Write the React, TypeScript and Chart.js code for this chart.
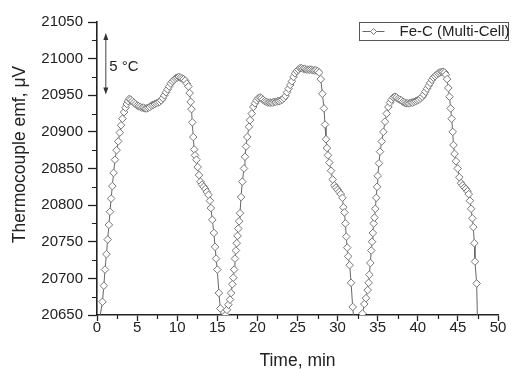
import React, { useEffect, useRef } from 'react';
import { Chart, registerables } from 'chart.js';

Chart.register(...registerables);

// ---- data (Time, min / Thermocouple emf, µV) ----
const cycle1Time = [0.25, 0.68, 0.85, 1.0, 1.18, 1.33, 1.48, 1.62, 1.76, 1.91, 2.07, 2.24, 2.44, 2.64, 2.84, 3.0, 3.17, 3.38, 3.56, 3.72, 3.88, 4.03, 4.2, 4.4, 4.6, 4.8, 5.0, 5.2, 5.4, 5.6, 5.8, 6.0, 6.2, 6.4, 6.6, 6.8, 7.0, 7.2, 7.4, 7.6, 7.8, 8.0, 8.2, 8.4, 8.6, 8.8, 9.0, 9.2, 9.4, 9.6, 9.8, 10.0, 10.2, 10.4, 10.6, 10.8, 11.0, 11.2, 11.4, 11.55, 11.68, 11.78, 11.88, 12.0, 12.12, 12.22, 12.4, 12.55, 12.72, 12.9, 13.1, 13.3, 13.5, 13.7, 13.9, 14.08, 14.2, 14.38, 14.58, 14.72, 14.85, 15.0, 15.2, 15.38, 15.6, 15.85];
const cycle1Emf = [20640, 20668, 20690, 20712, 20733, 20753, 20773, 20791, 20809, 20826, 20844, 20862, 20875, 20887, 20899, 20909, 20918, 20927, 20933, 20938, 20942, 20945, 20944, 20942, 20940, 20938, 20936, 20935, 20934, 20933, 20933, 20932, 20932, 20933, 20934, 20936, 20937, 20938, 20939, 20940, 20941, 20943, 20946, 20950, 20954, 20958, 20962, 20966, 20969, 20971, 20973, 20974, 20975, 20974, 20973, 20972, 20970, 20966, 20962, 20953, 20941, 20931, 20913, 20893, 20876, 20868, 20862, 20852, 20841, 20832, 20828, 20825, 20822, 20818, 20814, 20806, 20796, 20780, 20762, 20743, 20727, 20712, 20680, 20659, 20638, 20642];

const cycle2Time = [16.02, 16.2, 16.38, 16.58, 16.72, 16.87, 17.0, 17.1, 17.2, 17.32, 17.42, 17.52, 17.62, 17.72, 17.83, 17.96, 18.12, 18.33, 18.45, 18.58, 18.74, 18.95, 19.08, 19.29, 19.49, 19.7, 19.91, 20.1, 20.32, 20.5, 20.7, 20.9, 21.1, 21.3, 21.5, 21.7, 21.9, 22.1, 22.3, 22.5, 22.7, 22.9, 23.1, 23.3, 23.5, 23.7, 23.9, 24.1, 24.3, 24.5, 24.7, 24.9, 25.1, 25.3, 25.5, 25.7, 25.9, 26.1, 26.3, 26.5, 26.7, 26.9, 27.1, 27.3, 27.5, 27.7, 27.9, 28.1, 28.3, 28.43, 28.55, 28.68, 28.8, 28.97, 29.18, 29.38, 29.6, 29.8, 30.0, 30.2, 30.4, 30.6, 30.72, 30.85, 30.97, 31.08, 31.2, 31.32, 31.5, 31.68, 31.88, 32.1, 32.35, 32.6, 32.85];
const cycle2Emf = [20650, 20657, 20664, 20671, 20680, 20692, 20701, 20712, 20727, 20738, 20748, 20758, 20768, 20778, 20789, 20811, 20832, 20850, 20866, 20880, 20893, 20907, 20916, 20925, 20934, 20939, 20943, 20946, 20947, 20946, 20944, 20942, 20941, 20940, 20940, 20940, 20940, 20941, 20941, 20942, 20942, 20943, 20944, 20946, 20949, 20954, 20959, 20964, 20969, 20975, 20980, 20983, 20985, 20987, 20987, 20986, 20986, 20985, 20985, 20985, 20985, 20984, 20984, 20984, 20983, 20981, 20972, 20952, 20932, 20910, 20890, 20878, 20868, 20858, 20847, 20835, 20827, 20824, 20821, 20818, 20815, 20810, 20797, 20790, 20775, 20757, 20742, 20730, 20718, 20694, 20661, 20635, 20620, 20615, 20625];

const cycle3Time = [33.1, 33.33, 33.54, 33.75, 33.87, 33.96, 34.08, 34.2, 34.3, 34.4, 34.5, 34.6, 34.7, 34.82, 34.92, 35.0, 35.16, 35.29, 35.5, 35.7, 35.91, 36.12, 36.33, 36.54, 36.74, 36.95, 37.16, 37.35, 37.55, 37.75, 37.95, 38.15, 38.35, 38.55, 38.75, 38.95, 39.15, 39.35, 39.55, 39.75, 39.95, 40.15, 40.35, 40.55, 40.75, 40.95, 41.15, 41.35, 41.55, 41.75, 41.95, 42.15, 42.35, 42.55, 42.75, 42.95, 43.15, 43.35, 43.5, 43.65, 43.8, 43.95, 44.1, 44.22, 44.35, 44.45, 44.58, 44.76, 44.97, 45.18, 45.4, 45.6, 45.8, 46.0, 46.2, 46.35, 46.5, 46.65, 46.8, 46.92, 47.05, 47.13, 47.34, 47.62];
const cycle3Emf = [20652, 20665, 20673, 20684, 20694, 20705, 20721, 20738, 20750, 20762, 20775, 20783, 20795, 20810, 20825, 20840, 20857, 20873, 20887, 20900, 20914, 20925, 20934, 20940, 20944, 20947, 20948, 20947, 20945, 20944, 20943, 20941, 20940, 20939, 20939, 20939, 20940, 20940, 20941, 20942, 20943, 20944, 20946, 20948, 20951, 20955, 20959, 20963, 20967, 20971, 20974, 20976, 20978, 20980, 20981, 20982, 20982, 20981, 20978, 20972, 20960, 20948, 20932, 20918, 20900, 20882, 20870, 20860, 20850, 20838, 20830, 20827, 20824, 20822, 20819, 20815, 20806, 20795, 20782, 20770, 20748, 20723, 20693, 20550];

const seriesLabel = 'Fe-C (Multi-Cell)';
const xTitle = 'Time, min';
const yTitle = 'Thermocouple emf, \u03bcV';
const annotationText = '5 \u00b0C';
const annotationTime = 1.1;
const annotationEmf = [20951, 21035];

const xRange = [0, 50];
const yRange = [20650, 21050];
const xMinorTicks = [2.5, 7.5, 12.5, 17.5, 22.5, 27.5, 32.5, 37.5, 42.5, 47.5];
const yMinorTicks = [20675, 20725, 20775, 20825, 20875, 20925, 20975, 21025];

// ---- styles ----
const FONT = "'Liberation Sans', Arial, Helvetica, sans-serif";
const AXIS = '#222';
const TEXT = '#222';
const LINE = '#666';
const MARK = '#777';

const decorPlugin = {
  id: 'decor',
  afterDraw(chart: any) {
    const { ctx, chartArea } = chart;
    const xs = chart.scales.x;
    const ys = chart.scales.y;
    ctx.save();

    // minor ticks
    ctx.strokeStyle = AXIS;
    ctx.lineWidth = 1.2;
    ctx.beginPath();
    for (const v of xMinorTicks) {
      const px = Math.round(xs.getPixelForValue(v)) + 0.5;
      ctx.moveTo(px, chartArea.bottom);
      ctx.lineTo(px, chartArea.bottom + 4);
    }
    for (const v of yMinorTicks) {
      const py = Math.round(ys.getPixelForValue(v)) + 0.5;
      ctx.moveTo(chartArea.left - 5, py);
      ctx.lineTo(chartArea.left, py);
    }
    ctx.stroke();

    // double arrow annotation
    const ax = xs.getPixelForValue(annotationTime);
    const ay1 = ys.getPixelForValue(annotationEmf[1]);
    const ay2 = ys.getPixelForValue(annotationEmf[0]);
    ctx.strokeStyle = '#444';
    ctx.fillStyle = '#333';
    ctx.lineWidth = 1;
    ctx.beginPath();
    ctx.moveTo(ax, ay1 + 4);
    ctx.lineTo(ax, ay2 - 4);
    ctx.stroke();
    ctx.beginPath();
    ctx.moveTo(ax, ay1);
    ctx.lineTo(ax - 2.5, ay1 + 7);
    ctx.lineTo(ax + 2.5, ay1 + 7);
    ctx.closePath();
    ctx.fill();
    ctx.beginPath();
    ctx.moveTo(ax, ay2);
    ctx.lineTo(ax - 2.5, ay2 - 7);
    ctx.lineTo(ax + 2.5, ay2 - 7);
    ctx.closePath();
    ctx.fill();

    ctx.fillStyle = TEXT;
    ctx.font = `15px ${FONT}`;
    ctx.textAlign = 'left';
    ctx.textBaseline = 'middle';
    ctx.fillText(annotationText, ax + 3.5, (ay1 + ay2) / 2 + 3);

    // axis titles
    ctx.font = `17.5px ${FONT}`;
    ctx.textAlign = 'center';
    ctx.textBaseline = 'alphabetic';
    ctx.fillText(xTitle, (chartArea.left + chartArea.right) / 2, 366);
    ctx.save();
    ctx.translate(25, (chartArea.top + chartArea.bottom) / 2 - 14);
    ctx.rotate(-Math.PI / 2);
    ctx.fillText(yTitle, 0, 0);
    ctx.restore();

    // legend box
    const lx = 359.5, ly = 22.5, lw = 149, lh = 18;
    ctx.strokeStyle = '#555';
    ctx.lineWidth = 1;
    ctx.strokeRect(lx, ly, lw, lh);
    const cy = ly + lh / 2;
    ctx.strokeStyle = LINE;
    ctx.beginPath();
    ctx.moveTo(lx + 3, cy);
    ctx.lineTo(lx + 25, cy);
    ctx.stroke();
    ctx.fillStyle = '#fff';
    ctx.strokeStyle = MARK;
    const dx = lx + 14, r = 3;
    ctx.beginPath();
    ctx.moveTo(dx - r, cy);
    ctx.lineTo(dx, cy - r);
    ctx.lineTo(dx + r, cy);
    ctx.lineTo(dx, cy + r);
    ctx.closePath();
    ctx.fill();
    ctx.stroke();
    ctx.fillStyle = TEXT;
    ctx.font = `15px ${FONT}`;
    ctx.textAlign = 'left';
    ctx.textBaseline = 'middle';
    ctx.fillText(seriesLabel, lx + 40, cy + 0.5);

    ctx.restore();
  },
};

export default function App() {
  const canvasRef = useRef<HTMLCanvasElement | null>(null);

  useEffect(() => {
    const canvas = canvasRef.current;
    if (!canvas) return;
    const times = [...cycle1Time, ...cycle2Time, ...cycle3Time];
    const emf = [...cycle1Emf, ...cycle2Emf, ...cycle3Emf];
    const points = times.map((t, i) => ({ x: t, y: emf[i] }));

    const chart = new Chart(canvas, {
      type: 'line',
      data: {
        datasets: [
          {
            label: seriesLabel,
            data: points,
            borderColor: LINE,
            borderWidth: 1,
            pointStyle: 'rectRot',
            pointRadius: 3.8,
            pointBackgroundColor: '#fff',
            pointBorderColor: MARK,
            pointBorderWidth: 1,
            tension: 0,
            fill: false,
          },
        ],
      },
      options: {
        animation: false,
        responsive: false,
        maintainAspectRatio: false,
        devicePixelRatio: 1,
        layout: { padding: { top: 22, right: 14, left: 0, bottom: 0 } },
        plugins: {
          legend: { display: false },
          tooltip: { enabled: false },
          title: { display: false },
        },
        scales: {
          x: {
            type: 'linear',
            min: xRange[0],
            max: xRange[1],
            afterFit: (s: any) => {
              s.height = 54;
            },
            border: { display: true, color: AXIS, width: 1.6 },
            grid: {
              display: true,
              drawOnChartArea: false,
              drawTicks: true,
              tickLength: 6,
              tickColor: AXIS,
              tickWidth: 1.3,
            },
            ticks: {
              stepSize: 5,
              color: TEXT,
              font: { family: FONT, size: 15 },
              padding: -2,
              maxRotation: 0,
              callback: (v: any) => String(v),
            },
          },
          y: {
            type: 'linear',
            min: yRange[0],
            max: yRange[1],
            afterFit: (s: any) => {
              s.width = 97;
            },
            border: { display: true, color: AXIS, width: 1.6 },
            grid: {
              display: true,
              drawOnChartArea: false,
              drawTicks: true,
              tickLength: 9,
              tickColor: AXIS,
              tickWidth: 1.3,
            },
            ticks: {
              stepSize: 50,
              color: TEXT,
              font: { family: FONT, size: 15 },
              padding: 5,
              callback: (v: any) => String(v),
            },
          },
        },
      },
      plugins: [decorPlugin],
    });

    return () => {
      chart.destroy();
    };
  }, []);

  return (
    <div style={{ position: 'absolute', left: 0, top: 0, width: 512, height: 369, background: '#fff' }}>
      <canvas ref={canvasRef} width={512} height={369} style={{ width: 512, height: 369, display: 'block' }} />
    </div>
  );
}
